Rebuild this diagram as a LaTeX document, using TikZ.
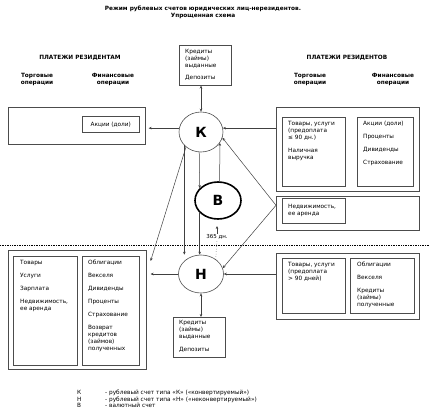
\documentclass[tikz,border=0pt]{standalone}
\usepackage{fontspec}
\setmainfont{DejaVu Sans}
\usetikzlibrary{arrows.meta,calc,shapes.geometric}

\tikzset{
  box/.style={draw=black!70,line width=.6pt,inner sep=0pt,anchor=north west,
    font=\fontsize{5.8}{7}\selectfont},
  txt/.style={inner sep=0pt,anchor=north west,align=left,font=\fontsize{5.8}{7}\selectfont},
  head/.style={inner sep=0pt,align=center,font=\fontsize{5.8}{7}\selectfont\bfseries},
  acc/.style={ellipse,draw=black!70,line width=.6pt,fill=white,inner sep=0pt,
    font=\fontsize{14}{14}\selectfont\bfseries},
  link/.style={draw=black!75,line width=.5pt},
}

\begin{document}
\begin{tikzpicture}[x=1pt,y=-1pt,>={Stealth[length=3pt,width=2.6pt]}]
\useasboundingbox (0,0) rectangle (429,413);

\node[head] (title) at (203,12) {Режим рублевых счетов юридических лиц-нерезидентов.\\Упрощенная схема};

\node[head] (payto) at (80,58) {ПЛАТЕЖИ РЕЗИДЕНТАМ};
\node[head] (payfrom) at (347,58) {ПЛАТЕЖИ РЕЗИДЕНТОВ};
\node[head] (totrade) at (37,79) {Торговые\\операции};
\node[head] (tofin) at (113,79) {Финансовые\\операции};
\node[head] (fromtrade) at (310,79) {Торговые\\операции};
\node[head] (fromfin) at (393,79) {Финансовые\\операции};

% deposits of K and H
\node[box,minimum width=52,minimum height=40] (tdep) at (179,45) {};
\node[txt] (tdeptxt) at (185,49) {Кредиты\\(займы)\\выданные\\[5pt]Депозиты};
\node[box,minimum width=52,minimum height=40] (bdep) at (173,317) {};
\node[txt] (bdeptxt) at (179,320) {Кредиты\\(займы)\\выданные\\[6pt]Депозиты};

% upper part
\node[box,minimum width=137,minimum height=37] (lt) at (8,107) {};
\node[box,minimum width=57,minimum height=16] (ltshares) at (82,116) {Акции (доли)};

\node[box,minimum width=143,minimum height=84] (rt) at (276,107) {};
\node[box,minimum width=63,minimum height=69] (rttrade) at (282,117) {};
\node[box,minimum width=56,minimum height=69] (rtfin) at (357,117) {};
\node[txt] (rttradetxt) at (288,121) {Товары, услуги\\(предоплата\\≤ 90 дн.)\\[6pt]Наличная\\выручка};
\node[txt] (rtfintxt) at (363,121) {Акции (доли)\\[6pt]Проценты\\[6pt]Дивиденды\\[6pt]Страхование};

\node[box,minimum width=143,minimum height=34] (rre) at (276,196) {};
\node[box,minimum width=63,minimum height=25] (rreal) at (282,198) {};
\node[txt] (rrealtxt) at (288,204) {Недвижимость,\\ее аренда};

% lower part
\node[box,minimum width=138,minimum height=119] (lb) at (8,250) {};
\node[box,minimum width=64,minimum height=109] (lbtrade) at (13,256) {};
\node[box,minimum width=57,minimum height=109] (lbfin) at (82,256) {};
\node[txt] (lbtradetxt) at (20,260) {Товары\\[6pt]Услуги\\[6pt]Зарплата\\[6pt]Недвижимость,\\ее аренда};
\node[txt] (lbfintxt) at (88,260) {Облигации\\[6pt]Векселя\\[6pt]Дивиденды\\[6pt]Проценты\\[6pt]Страхование\\[6pt]Возврат\\кредитов\\(займов)\\полученных};

\node[box,minimum width=143,minimum height=66] (rb) at (276,253) {};
\node[box,minimum width=63,minimum height=55] (rbtrade) at (282,258) {};
\node[box,minimum width=64,minimum height=55] (rbfin) at (350,258) {};
\node[txt] (rbtradetxt) at (288,262) {Товары, услуги\\(предоплата\\> 90 дней)};
\node[txt] (rbfintxt) at (357,262) {Облигации\\[6pt]Векселя\\[6pt]Кредиты\\(займы)\\полученные};

% accounts
\node[acc,minimum width=44,minimum height=40] (K) at (201,132) {К};
\node[acc,minimum width=45,minimum height=38] (H) at (201,274) {Н};
\node[acc,draw=black,line width=1.6pt,minimum width=46,minimum height=37] (B) at (218,200.5) {В};

\node[inner sep=.5pt,font=\fontsize{5.5}{6}\selectfont] (d365) at (217,237) {365 дн.};
\coordinate (d365tip) at (217,226);

\draw[line width=.8pt,dash pattern=on .8pt off .9pt] (0,245) -- (429,245);

\draw[link,<->] (tdep.south -| K.north) -- (K.north);
\draw[link,->,shorten >=3pt] (K.170) -- (K.170 -| lt.east);
\draw[link,->] (K.10 -| rt.west) -- (K.10);
\draw[link,->] ([yshift=8pt]rre.west) -- (K.-15);
\draw[link,->] ([yshift=8pt]rre.west) -- (H.15);
\draw[link,->] (K.225) -- ([xshift=4pt,yshift=-11pt]lb.north east);
\draw[link,->] (K.219) -- (K.219 |- H.north);
\draw[link,->] (K.265) -- (B.146);
\draw[link,->] (B.85) -- (K.-30);
\draw[link,->] (B.214) -- (B.214 |- H.north);
\draw[link,dotted] (H.45) -- (d365.south);
\draw[link,->] (d365.north) -- (d365tip);
\draw[link,->,shorten >=4pt] (H.west) -- (H.west -| lb.east);
\draw[link,->] (H.east -| rb.west) -- (H.east);
\draw[link,<->] (H.south) -- (H.south |- bdep.north);

% legend
\node[txt,font=\fontsize{5.8}{6.6}\selectfont] (legkey) at (77,390) {К\\Н\\В};
\node[txt,font=\fontsize{5.8}{6.6}\selectfont] (legtext) at (105,390) {- рублевый счет типа «К» («конвертируемый»)\\- рублевый счет типа «Н» («неконвертируемый»)\\- валютный счет};

\end{tikzpicture}
\end{document}
